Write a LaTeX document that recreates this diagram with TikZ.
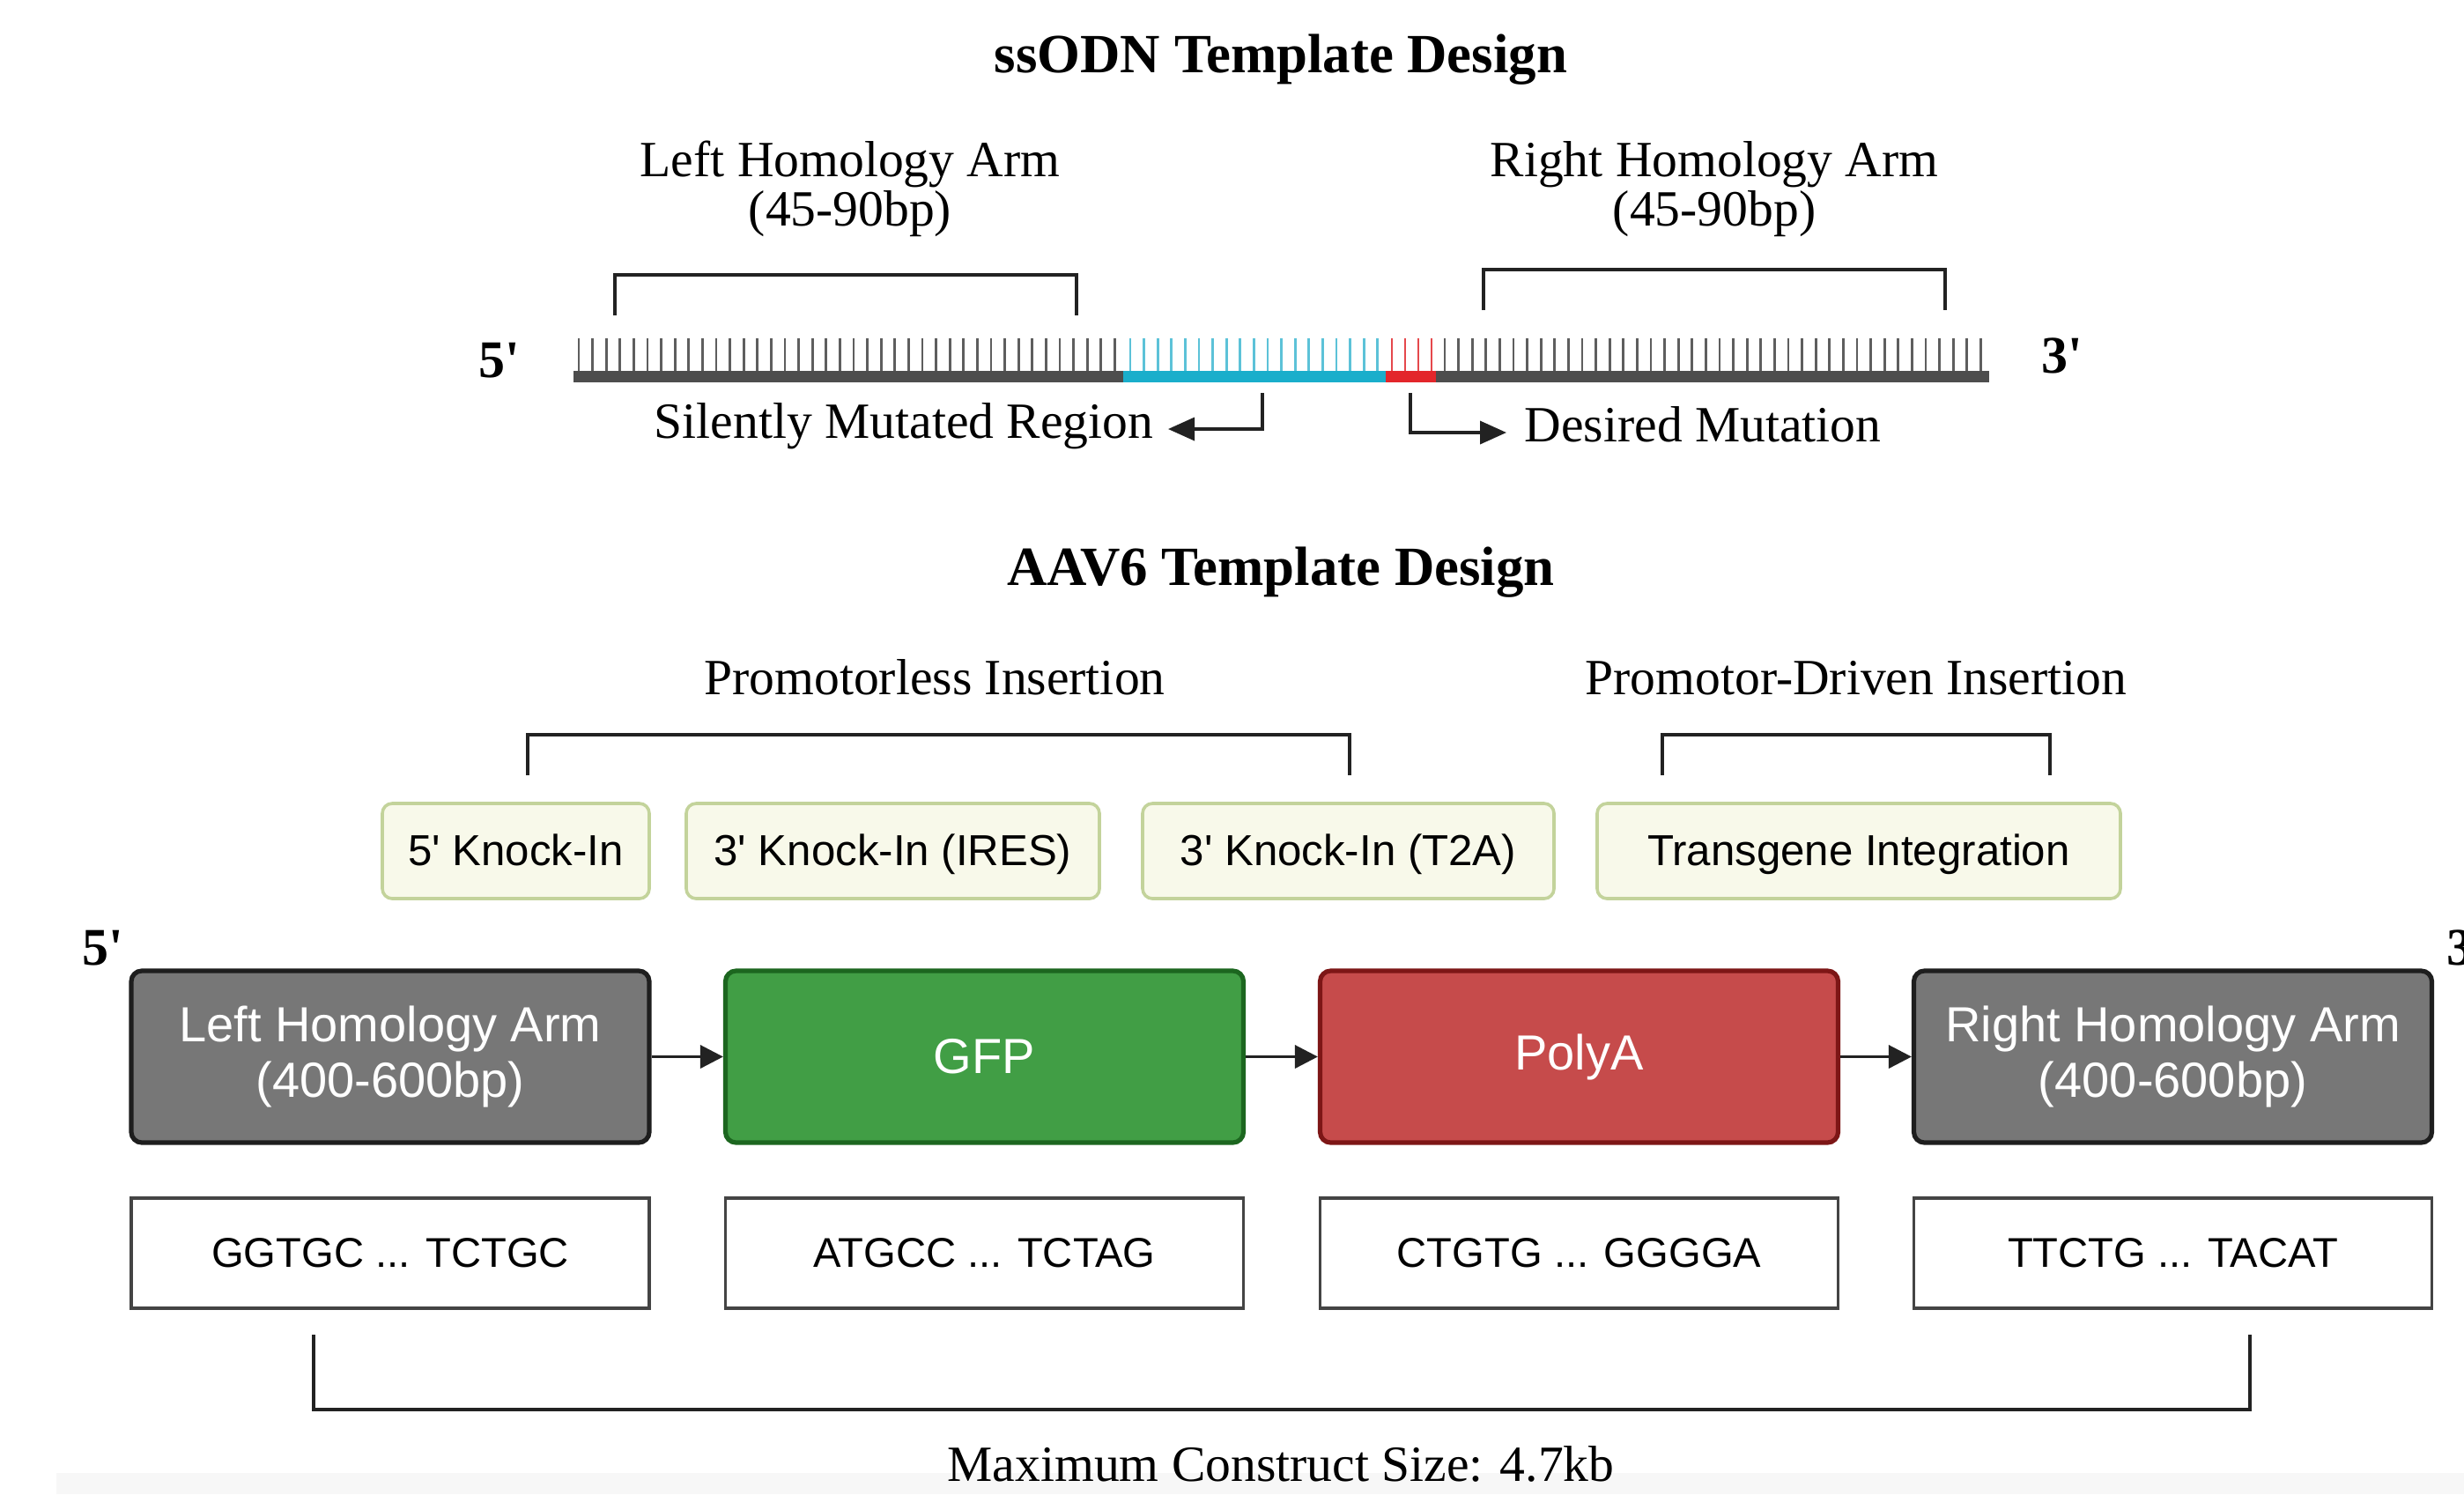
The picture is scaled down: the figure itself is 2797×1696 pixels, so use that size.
\documentclass[tikz,border=0pt]{standalone}
\usepackage{fontspec}
\setmainfont{Liberation Serif}
\setsansfont{Liberation Sans}
\usetikzlibrary{arrows.meta}
\definecolor{bargray}{HTML}{4D4D4D}
\definecolor{tickgray}{HTML}{5E5E5E}
\definecolor{cyanbar}{HTML}{1AAECB}
\definecolor{cyantick}{HTML}{5CC2D8}
\definecolor{redbar}{HTML}{E3262B}
\definecolor{redtick}{HTML}{E5484C}
\definecolor{kifill}{HTML}{F8F9EA}
\definecolor{kiborder}{HTML}{C3D39B}
\definecolor{hafill}{HTML}{777777}
\definecolor{haborder}{HTML}{1E1E1E}
\definecolor{gfpfill}{HTML}{419E45}
\definecolor{gfpborder}{HTML}{1C661F}
\definecolor{pafill}{HTML}{C64B4B}
\definecolor{paborder}{HTML}{7D1616}
\definecolor{seqborder}{HTML}{444444}
\definecolor{ink}{HTML}{222222}
\begin{document}
\begin{tikzpicture}[x=0.25pt,y=-0.25pt,
  titletext/.style={font=\fontsize{15.7}{18}\selectfont\bfseries, inner sep=0pt, text height=0.7em, text depth=0.2em},
  labtext/.style={font=\fontsize{14.4}{16}\selectfont, inner sep=0pt, text height=0.7em, text depth=0.2em},
  endtext/.style={font=\fontsize{15}{16}\selectfont\bfseries, inner sep=0pt},
  bracketline/.style={draw=ink, line width=1pt},
  arr/.style={draw=ink, line width=0.9pt, -{Triangle[length=6.5pt,width=6.5pt]}},
  tickg/.style={draw=tickgray, line width=0.7pt},
  tickc/.style={draw=cyantick, line width=0.7pt},
  tickr/.style={draw=redtick, line width=0.7pt},
  kibox/.style={draw=kiborder, fill=kifill, line width=0.9pt, rounded corners=2.8pt,
    minimum height=27pt, inner sep=0pt, text height=1.0em, text depth=0.2em, font=\fontsize{12.3}{14}\sffamily},
  mainbox/.style={line width=1.3pt, rounded corners=3pt, minimum width=147pt, minimum height=48.75pt,
    inner sep=0pt, text=white, align=center, font=\fontsize{14}{15.6}\sffamily},
  seqbox/.style={draw=seqborder, fill=white, line width=0.8pt, minimum width=147pt, minimum height=31.25pt,
    inner sep=0pt, font=\fontsize{11.8}{14}\sffamily}
]
\clip (0,0) rectangle (2797,1696);
\fill[white] (0,0) rectangle (2797,1696);
\fill[black!3] (64,1672) rectangle (2797,1696);

% ---------- ssODN ----------
\node[titletext] (t1) at (1454,72) {ssODN Template Design};
\node[labtext] (lhal) at (965,190) {Left Homology Arm};
\node[labtext] (lhas) at (965,246) {(45-90bp)};
\node[labtext] (rhal) at (1946,190) {Right Homology Arm};
\node[labtext] (rhas) at (1946,246) {(45-90bp)};

\draw[bracketline] (698,358) -- (698,312) -- (1222,312) -- (1222,358);
\draw[bracketline] (1684,352) -- (1684,306) -- (2208,306) -- (2208,352);

% ticks
\foreach \i in {0,...,39} \draw[tickg] ({657+15.6*\i},384) -- ++(0,38);
\foreach \i in {0,...,18} \draw[tickc] ({1283+15.6*\i},384) -- ++(0,38);
\foreach \i in {0,...,3} \draw[tickr] ({1580+15*\i},384) -- ++(0,38);
\foreach \i in {0,...,39} \draw[tickg] ({1640+15.6*\i},384) -- ++(0,38);
% backbone
\fill[bargray] (651,421) rectangle (1275,434);
\fill[cyanbar] (1275,421) rectangle (1573,434);
\fill[redbar] (1573,421) rectangle (1630,434);
\fill[bargray] (1630,421) rectangle (2258,434);

\node[endtext] (five1) at (567,409) {5\textquotesingle};
\node[endtext] (three1) at (2341,404) {3\textquotesingle};

\node[labtext, anchor=east] (smr) at (1310,487) {Silently Mutated Region};
\node[labtext, anchor=west] (dmu) at (1730,491) {Desired Mutation};
\coordinate (smc) at (1433,446);
\coordinate (dmc) at (1601,446);
\draw[arr, -{Triangle[length=7.5pt,width=6.5pt]}, shorten >=4pt] (smc) |- (smr.east);
\draw[arr, -{Triangle[length=7.5pt,width=6.5pt]}, shorten >=5pt] (dmc) |- (dmu.west);

% ---------- AAV6 ----------
\node[titletext] (t2) at (1454,654) {AAV6 Template Design};
\node[labtext] (pl) at (1061,778) {Promotorless Insertion};
\node[labtext] (pd) at (2107,778) {Promotor-Driven Insertion};

\draw[bracketline] (599,880) -- (599,834) -- (1532,834) -- (1532,880);
\draw[bracketline] (1887,880) -- (1887,834) -- (2327,834) -- (2327,880);

\node[kibox, minimum width=75.75pt] (ki5) at (585.5,966) {5\textquotesingle{} Knock-In};
\node[kibox, minimum width=117.25pt] (kiires) at (1013.5,966) {3\textquotesingle{} Knock-In (IRES)};
\node[kibox, minimum width=116.75pt] (kit2a) at (1530.5,966) {3\textquotesingle{} Knock-In (T2A)};
\node[kibox, minimum width=148.5pt] (tgi) at (2110,966) {Transgene Integration};

\node[endtext] (five2) at (117,1076) {5\textquotesingle};
\node[endtext, anchor=west] (three2) at (2777,1076) {3\textquotesingle};

\node[mainbox, draw=haborder, fill=hafill] (lha) at (443,1199.5) {Left Homology Arm\\(400-600bp)};
\node[mainbox, draw=gfpborder, fill=gfpfill] (gfp) at (1117.5,1199.5) {GFP};
\node[mainbox, draw=paborder, fill=pafill] (pa) at (1792.5,1199.5) {PolyA};
\node[mainbox, draw=haborder, fill=hafill] (rha) at (2466.5,1199.5) {Right Homology Arm\\(400-600bp)};

\draw[arr] (lha) -- (gfp);
\draw[arr] (gfp) -- (pa);
\draw[arr] (pa) -- (rha);

\node[seqbox] (s1) at (443,1422.5) {GGTGC ... TCTGC};
\node[seqbox] (s2) at (1117.5,1422.5) {ATGCC ... TCTAG};
\node[seqbox] (s3) at (1792.5,1422.5) {CTGTG ... GGGGA};
\node[seqbox] (s4) at (2466.5,1422.5) {TTCTG ... TACAT};

\draw[draw=ink, line width=1pt] (356,1515) -- (356,1600) -- (2554,1600) -- (2554,1515);
\node[labtext] (mcs) at (1454,1671) {Maximum Construct Size: 4.7kb};
\end{tikzpicture}
\end{document}
